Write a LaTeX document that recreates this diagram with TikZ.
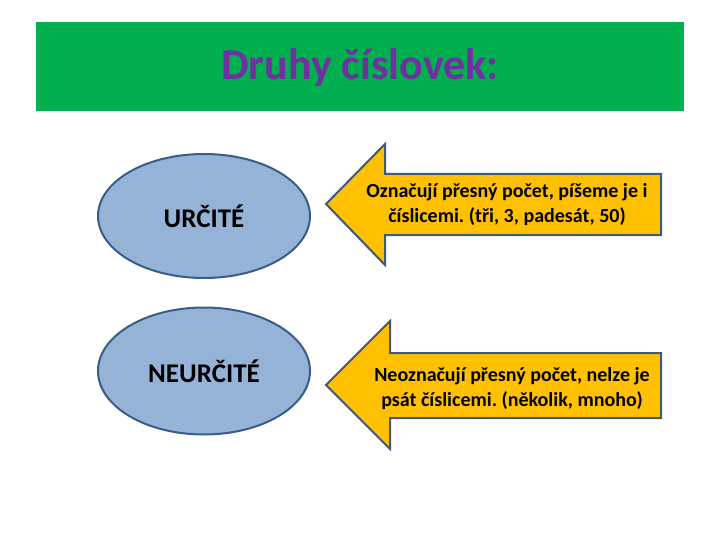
\documentclass[tikz,border=0pt]{standalone}
\usepackage{fontspec}
\setmainfont{Carlito}
\frenchspacing
\usetikzlibrary{shapes.geometric}
\definecolor{bannergreen}{HTML}{00B050}
\definecolor{titlepurple}{HTML}{7030A0}
\definecolor{ellfill}{HTML}{95B3D7}
\definecolor{ellline}{HTML}{385D8A}
\definecolor{arrfill}{HTML}{FFC000}
\definecolor{arrline}{HTML}{3E5A7A}
\begin{document}
\begin{tikzpicture}[x=1pt,y=-1pt,
  kind/.style={ellipse, draw=ellline, fill=ellfill, line width=2pt, minimum width=212pt, minimum height=124pt, inner sep=0pt, font=\bfseries\fontsize{27}{30}\selectfont},
  arrowshape/.style={draw=arrline, fill=arrfill, line width=2pt, line join=miter},
  desc/.style={align=center, font=\bfseries\fontsize{20}{25}\selectfont, inner sep=0pt}]
\useasboundingbox (0,0) rectangle (720,540);
\fill[bannergreen] (36,22) rectangle (684,111);
\node[font=\bfseries\fontsize{44}{48}\selectfont, text=titlepurple] (title) at (360,68) {Druhy číslovek:};
\node[kind] (urc) at (204,216) {URČITÉ};
\node[kind, minimum height=127pt] (neurc) at (204,371) {NEURČITÉ};
\draw[arrowshape] (326,204) -- (385,144) -- (385,174) -- (661,174) -- (661,235) -- (385,235) -- (385,265) -- cycle;
\draw[arrowshape] (326,385) -- (390,321) -- (390,353) -- (661,353) -- (661,418) -- (390,418) -- (390,449) -- cycle;
\node[desc] (d1) at (507,205) {Označují přesný počet, píšeme je i\\číslicemi. (tři, 3, padesát, 50)};
\node[desc] (d2) at (512,389) {Neoznačují přesný počet, nelze je\\psát číslicemi. (několik, mnoho)};
\end{tikzpicture}
\end{document}
